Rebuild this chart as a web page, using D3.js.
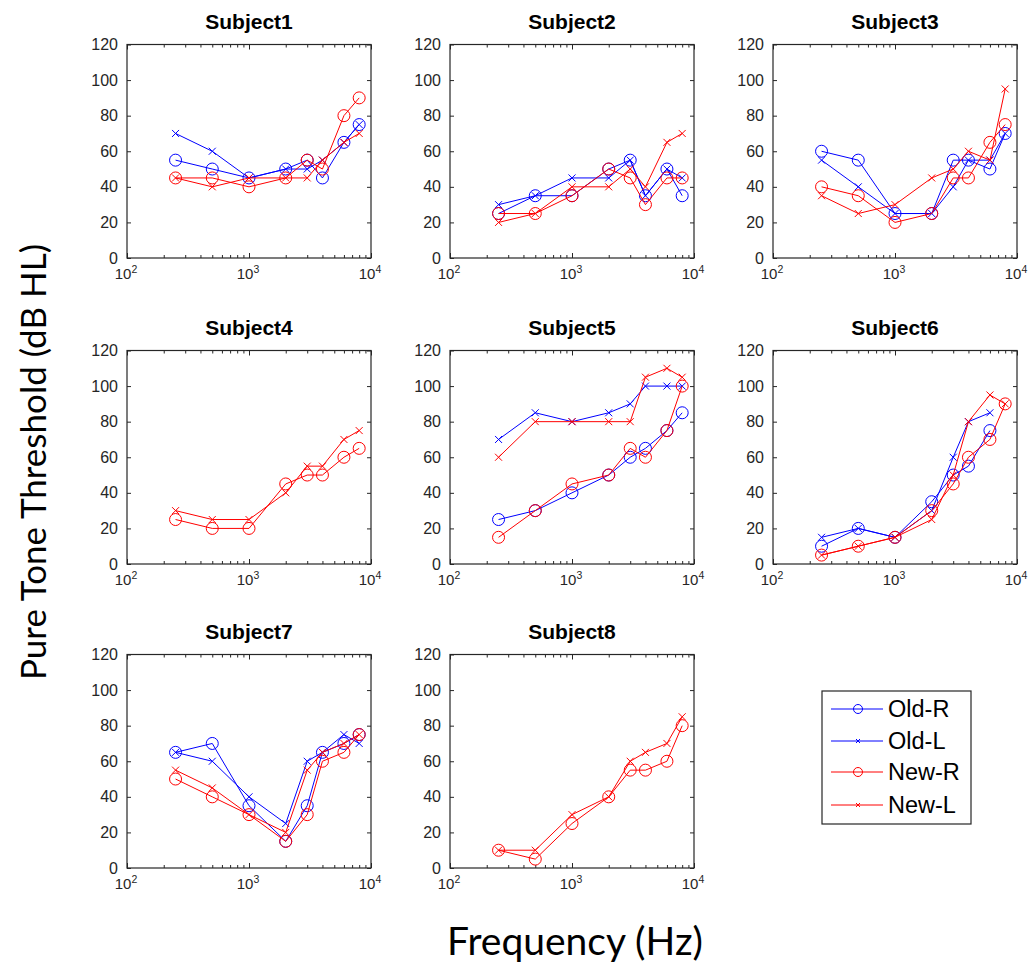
<!DOCTYPE html>
<html>
<head>
<meta charset="utf-8">
<script src="https://cdn.jsdelivr.net/npm/d3@7"></script>
<style>
  html, body { margin: 0; padding: 0; background: #fff; }
  svg { display: block; font-family: "Liberation Sans", Arial, sans-serif; }
</style>
</head>
<body>
<svg id="chart" width="1033" height="964"></svg>
<script>
// Audiometric test frequencies (Hz)
const freqs = [250, 500, 1000, 2000, 3000, 4000, 6000, 8000];
const subjects = ["Subject1", "Subject2", "Subject3", "Subject4", "Subject5", "Subject6", "Subject7", "Subject8"];
const yTicks = [0, 20, 40, 60, 80, 100, 120];
const xMajor = [100, 1000, 10000];

// Thresholds (dB HL) per subject, one row per subject; null = not measured
const oldR = [
  [55, 50, 45, 50, 55, 45, 65, 75],
  [25, 35, 35, 50, 55, 35, 50, 35],
  [60, 55, 25, 25, 55, 55, 50, 70],
  [null, null, null, null, null, null, null, null],
  [25, 30, 40, 50, 60, 65, 75, 85],
  [10, 20, 15, 35, 50, 55, 75, null],
  [65, 70, 35, 15, 35, 65, 70, 75],
  [null, null, null, null, null, null, null, null]
];
const oldL = [
  [70, 60, 45, 50, 50, 55, 65, 75],
  [30, 35, 45, 45, 55, 35, 50, 45],
  [55, 40, 25, 25, 40, 55, 55, 70],
  [null, null, null, null, null, null, null, null],
  [70, 85, 80, 85, 90, 100, 100, 100],
  [15, 20, 15, 30, 60, 80, 85, null],
  [65, 60, 40, 25, 60, 65, 75, 70],
  [null, null, null, null, null, null, null, null]
];
const newR = [
  [45, 45, 40, 45, 55, 50, 80, 90],
  [25, 25, 35, 50, 45, 30, 45, 45],
  [40, 35, 20, 25, 45, 45, 65, 75],
  [25, 20, 20, 45, 50, 50, 60, 65],
  [15, 30, 45, 50, 65, 60, 75, 100],
  [5, 10, 15, 30, 45, 60, 70, 90],
  [50, 40, 30, 15, 30, 60, 65, 75],
  [10, 5, 25, 40, 55, 55, 60, 80]
];
const newL = [
  [45, 40, 45, 45, 45, 55, 65, 70],
  [20, 25, 40, 40, 50, 40, 65, 70],
  [35, 25, 30, 45, 50, 60, 55, 95],
  [30, 25, 25, 40, 55, 55, 70, 75],
  [60, 80, 80, 80, 80, 105, 110, 105],
  [5, 10, 15, 25, 50, 80, 95, 90],
  [55, 45, 30, 20, 55, 65, 70, 75],
  [10, 10, 30, 40, 60, 65, 70, 85]
];

const seriesNames = ["Old-R", "Old-L", "New-R", "New-L"];
const seriesData = [oldR, oldL, newR, newL];
const seriesColors = ["#0000ff", "#0000ff", "#ff0000", "#ff0000"];
const seriesMarkers = ["circle", "x", "circle", "x"];

const svg = d3.select("#chart");

// Panel grid geometry
const colLeft = [127, 450, 773];
const rowTop = [44.5, 350.5, 654.5];
const pw = 244, ph = 213.5;

const x = d3.scaleLog().domain([100, 10000]).range([0, pw]);
const y = d3.scaleLinear().domain([0, 120]).range([ph, 0]);

const minorTicks = [];
[100, 1000].forEach(dec => { for (let k = 2; k <= 9; k++) minorTicks.push(dec * k); });

function drawMarker(g, kind, cx, cy, color, r, h) {
  if (kind === "circle") {
    g.append("circle").attr("cx", cx).attr("cy", cy).attr("r", r)
      .attr("fill", "none").attr("stroke", color).attr("stroke-width", 1);
  } else {
    g.append("path")
      .attr("d", `M${cx - h},${cy - h}L${cx + h},${cy + h}M${cx - h},${cy + h}L${cx + h},${cy - h}`)
      .attr("stroke", color).attr("stroke-width", 1).attr("fill", "none");
  }
}

subjects.forEach((name, i) => {
  const col = i % 3, row = Math.floor(i / 3);
  const g = svg.append("g").attr("transform", `translate(${colLeft[col]},${rowTop[row]})`);

  // Ticks pointing inward on all four sides
  const axB = g.append("g").attr("transform", `translate(0,${ph})`)
    .call(d3.axisBottom(x).tickValues(xMajor).tickSize(-5).tickFormat(""));
  const axBm = g.append("g").attr("transform", `translate(0,${ph})`)
    .call(d3.axisBottom(x).tickValues(minorTicks).tickSize(-3).tickFormat(""));
  const axT = g.append("g")
    .call(d3.axisTop(x).tickValues(xMajor).tickSize(-5).tickFormat(""));
  const axTm = g.append("g")
    .call(d3.axisTop(x).tickValues(minorTicks).tickSize(-3).tickFormat(""));
  const axL = g.append("g")
    .call(d3.axisLeft(y).tickValues(yTicks).tickSize(-4).tickPadding(9));
  const axR = g.append("g").attr("transform", `translate(${pw},0)`)
    .call(d3.axisRight(y).tickValues(yTicks).tickSize(-4).tickFormat(""));

  [axB, axBm, axT, axTm, axL, axR].forEach(a => {
    a.select(".domain").remove();
    a.selectAll("line").attr("stroke", "#262626");
  });
  axL.selectAll("text").attr("font-size", "16px").attr("fill", "#262626")
    .attr("font-family", "'Liberation Sans', Arial, sans-serif");

  // Decade labels 10^n
  g.selectAll(".xlab").data(xMajor).enter().append("text")
    .attr("class", "xlab")
    .attr("x", d => x(d) - 1)
    .attr("y", ph + 21)
    .attr("text-anchor", "middle")
    .attr("font-size", "15px")
    .attr("fill", "#262626")
    .each(function(d) {
      const t = d3.select(this);
      t.append("tspan").text("10");
      t.append("tspan").attr("dy", "-6").attr("font-size", "10.5px").text(Math.round(Math.log10(d)));
    });

  // Frame
  g.append("rect").attr("width", pw).attr("height", ph)
    .attr("fill", "none").attr("stroke", "#262626").attr("stroke-width", 1.2);

  // Title
  g.append("text").attr("x", pw / 2).attr("y", -15.5)
    .attr("text-anchor", "middle").attr("font-weight", "bold")
    .attr("font-size", "21px").attr("fill", "#000").text(name);

  // Series
  seriesData.forEach((arr, s) => {
    const vals = arr[i];
    const pts = freqs.map((f, k) => ({ f, v: vals[k] })).filter(p => p.v !== null);
    if (!pts.length) return;
    const line = d3.line().x(p => x(p.f)).y(p => y(p.v));
    g.append("path").datum(pts).attr("d", line)
      .attr("fill", "none").attr("stroke", seriesColors[s]).attr("stroke-width", 1);
    pts.forEach(p => drawMarker(g, seriesMarkers[s], x(p.f), y(p.v), seriesColors[s], 6, 3.5));
  });
});

// Legend
const lg = svg.append("g").attr("transform", "translate(822,691)");
lg.append("rect").attr("width", 149).attr("height", 133)
  .attr("fill", "#fff").attr("stroke", "#262626").attr("stroke-width", 1.2);
const legendY = [18, 50, 81, 114];
seriesNames.forEach((n, s) => {
  const yy = legendY[s];
  lg.append("line").attr("x1", 9).attr("x2", 61).attr("y1", yy).attr("y2", yy)
    .attr("stroke", seriesColors[s]).attr("stroke-width", 1);
  drawMarker(lg, seriesMarkers[s], 36, yy, seriesColors[s], 4.5, 2);
  lg.append("text").attr("x", 66).attr("y", yy).attr("dy", "0.36em")
    .attr("font-size", "23.5px").attr("fill", "#000").text(n);
});

// Axis titles
svg.append("text")
  .attr("transform", "translate(46,462) rotate(-90)")
  .attr("text-anchor", "middle")
  .attr("font-family", "Lato, 'Open Sans', sans-serif")
  .attr("font-size", "35px").attr("fill", "#000")
  .text("Pure Tone Threshold (dB HL)");

svg.append("text")
  .attr("x", 575).attr("y", 955)
  .attr("text-anchor", "middle")
  .attr("font-family", "Lato, 'Open Sans', sans-serif")
  .attr("font-size", "39px").attr("fill", "#000")
  .text("Frequency (Hz)");
</script>
</body>
</html>
